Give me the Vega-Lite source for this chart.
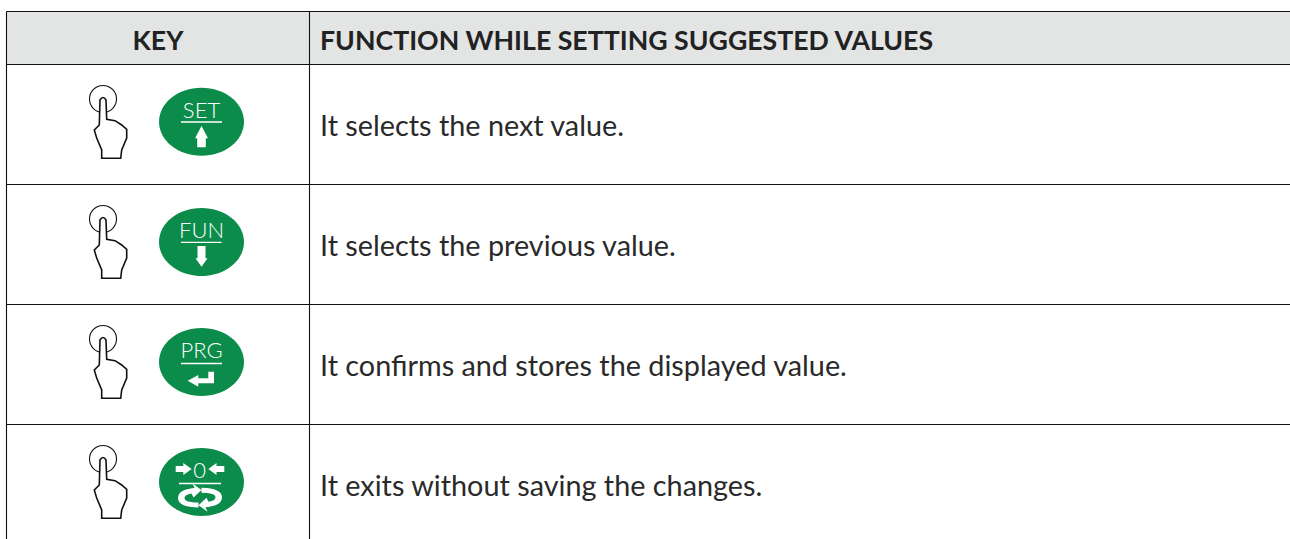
{
"$schema":"https://vega.github.io/schema/vega-lite/v6.json",
"width":1290,"height":539,"padding":0,"autosize":{"type":"none"},"background":"white",
"config":{"view":{"stroke":null}},
"datasets":{
"head":[{"x":6.5,"x2":1290,"y":11.5,"y2":64.5}],
"lines":[
{"x":6.5,"x2":1290,"y":11.5,"y2":11.5},{"x":6.5,"x2":1290,"y":64.5,"y2":64.5},{"x":6.5,"x2":1290,"y":184.5,"y2":184.5},{"x":6.5,"x2":1290,"y":304.5,"y2":304.5},{"x":6.5,"x2":1290,"y":424.5,"y2":424.5},
{"x":6.5,"x2":6.5,"y":11.5,"y2":539},{"x":309.5,"x2":309.5,"y":11.5,"y2":539}],
"hands":[{"hx":103,"hy":125,"cy":99},{"hx":103,"hy":245,"cy":219},{"hx":103,"hy":365,"cy":339},{"hx":103,"hy":485,"cy":459}],
"keys":[
{"key":"SET","glyph":"up","kx":201.5,"ky":121.7,"by":118,"ty":122,"lx":181,"lx2":222},
{"key":"FUN","glyph":"down","kx":201.5,"ky":242,"by":238.3,"ty":242.3,"lx":181,"lx2":221.5},
{"key":"PRG","glyph":"enter","kx":201.5,"ky":362,"by":358.3,"ty":363.5,"lx":181,"lx2":222},
{"key":"0","glyph":"zero","kx":199.5,"ky":482,"by":477.5,"ty":483.5,"lx":179,"lx2":221}],
"titleKey":[{"t":"KEY","x":158,"y":50}],
"titleFn":[{"t":"FUNCTION WHILE SETTING SUGGESTED VALUES","x":320,"y":50}],
"body":[{"t":"It selects the next value.","y":136},{"t":"It selects the previous value.","y":256},{"t":"It confirms and stores the displayed value.","y":376},{"t":"It exits without saving the changes.","y":496}]
},
"encoding":{},
"layer":[
{"data":{"name":"head"},"mark":{"type":"rect","fill":"#e3e5e4"},"encoding":{
"x":{"field":"x","type":"quantitative","scale":{"domain":[0,1290],"nice":false,"zero":false},"axis":null},"x2":{"field":"x2"},
"y":{"field":"y","type":"quantitative","scale":{"domain":[0,539],"nice":false,"zero":false,"reverse":true},"axis":null},"y2":{"field":"y2"}}},
{"data":{"name":"lines"},"mark":{"type":"rule","stroke":"#111111","strokeWidth":1.1},"encoding":{
"x":{"field":"x","type":"quantitative","axis":null},"x2":{"field":"x2"},
"y":{"field":"y","type":"quantitative","axis":null},"y2":{"field":"y2"}}},
{"data":{"name":"hands"},"mark":{"type":"point","filled":false,"stroke":"#111111","strokeWidth":1.1,"opacity":1,"shape":"M-13.5,0 A13.5,13.5 0 1,1 13.5,0 A13.5,13.5 0 1,1 -13.5,0 Z","size":4},"encoding":{
"x":{"field":"hx","type":"quantitative","axis":null},
"y":{"field":"cy","type":"quantitative","axis":null}}},
{"data":{"name":"hands"},"mark":{"type":"point","filled":true,"fill":"white","stroke":"#111111","strokeWidth":1.6,"opacity":1,"size":4,"shape":"M-3,-25 Q0,-30 3,-25 L3.7,-5.7 L12,-4.3 L18.7,0 L23.7,4.3 L23.7,13 L18.7,25 L17.7,33.3 L-1.3,33.3 L-1.3,25 L-6.3,13 L-8.7,5 L-3.7,0 Z"},"encoding":{
"x":{"field":"hx","type":"quantitative","axis":null},
"y":{"field":"hy","type":"quantitative","axis":null}}},
{"data":{"name":"keys"},"mark":{"type":"point","filled":true,"fill":"#0b8c4a","stroke":null,"opacity":1,"size":4,"shape":"M-42.5,0 A42.5,34 0 1,1 42.5,0 A42.5,34 0 1,1 -42.5,0 Z"},"encoding":{
"x":{"value":201.5},
"y":{"field":"ky","type":"quantitative","axis":null}}},
{"data":{"name":"keys"},"mark":{"type":"point","filled":true,"fill":"white","stroke":null,"opacity":1,"size":4},"encoding":{
"x":{"value":201.5},
"y":{"field":"ky","type":"quantitative","axis":null},
"shape":{"field":"glyph","type":"nominal","legend":null,"scale":{"domain":["up","down","enter","zero"],"range":[
"M0,4.3 L6.5,16.6 L4.3,16.6 L4.3,25.6 L-4.3,25.6 L-4.3,16.6 L-6.5,16.6 Z",
"M-4,4 L4,4 L4,16.3 L6,16.3 L0,24.7 L-6,16.3 L-4,16.3 Z",
"M-13.8,18.7 L-3.2,13 L-3.2,16.3 L6.8,16.3 L6.8,9.7 L12.5,9.7 L12.5,21.3 L-3.2,21.3 L-3.2,24.7 Z",
"M-25.8,-16 L-18.2,-16 L-18.2,-19 L-9.8,-13 L-18.2,-7 L-18.2,-10 L-25.8,-10 Z M22.8,-16 L15,-16 L15,-19 L6.8,-13 L15,-7 L15,-10 L22.8,-10 Z M-7,6 Q-23.5,7.5 -23.5,16 Q-23.5,25 -3,25.5 L-3,20.5 Q-17,20.5 -17,16 Q-17,12.5 -10,11.5 L-8,15.5 L0,8 L-9,1.5 Z M4,25.2 Q20.5,23.7 20.5,15.2 Q20.5,6.2 0,5.7 L0,10.7 Q14,10.7 14,15.2 Q14,18.7 7,19.7 L5,15.7 L-3,23.2 L6,29.7 Z"
]}}}},
{"data":{"name":"keys"},"mark":{"type":"rule","stroke":"white","strokeWidth":1.3},"encoding":{
"x":{"field":"lx","type":"quantitative","axis":null},"x2":{"field":"lx2"},
"y":{"field":"ty","type":"quantitative","axis":null}}},
{"data":{"name":"keys"},"mark":{"type":"text","fill":"white","font":"Lato","fontWeight":300,"fontSize":22,"align":"center","baseline":"alphabetic"},"encoding":{
"x":{"field":"kx","type":"quantitative","axis":null},
"y":{"field":"by","type":"quantitative","axis":null},
"text":{"field":"key"}}},
{"data":{"name":"titleKey"},"mark":{"type":"text","fill":"#222222","font":"Lato","fontWeight":"bold","fontSize":26.7,"baseline":"alphabetic","align":"center"},"encoding":{
"x":{"field":"x","type":"quantitative","axis":null},
"y":{"field":"y","type":"quantitative","axis":null},
"text":{"field":"t"}}},
{"data":{"name":"titleFn"},"mark":{"type":"text","fill":"#222222","font":"Lato","fontWeight":"bold","fontSize":26.7,"baseline":"alphabetic","align":"left"},"encoding":{
"x":{"field":"x","type":"quantitative","axis":null},
"y":{"field":"y","type":"quantitative","axis":null},
"text":{"field":"t"}}},
{"data":{"name":"body"},"mark":{"type":"text","fill":"#2a2a2a","font":"Lato","fontSize":28.8,"align":"left","baseline":"alphabetic","x":320},"encoding":{
"y":{"field":"y","type":"quantitative","axis":null},
"text":{"field":"t"}}}
]
}
